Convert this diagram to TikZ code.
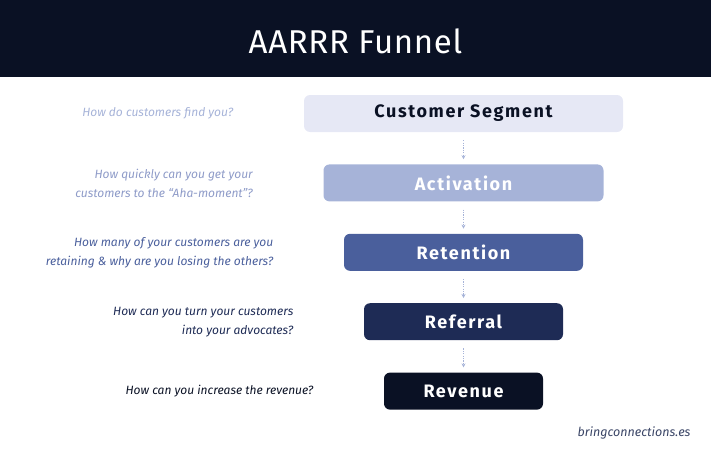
\documentclass[tikz,border=0pt]{standalone}
\usepackage{fontspec}
\setmainfont{Fira Sans}
\usetikzlibrary{positioning,arrows.meta}

\definecolor{navy}{HTML}{0A1124}
\definecolor{lav}{HTML}{E6E8F5}
\definecolor{sky}{HTML}{A6B3D8}
\definecolor{steel}{HTML}{4A5F9C}
\definecolor{ink}{HTML}{1E2B55}
\definecolor{mist}{HTML}{8E9BC8}
\definecolor{web}{HTML}{3A4566}

\tikzset{
  stage/.style={rectangle, rounded corners=6pt, minimum height=37pt, inner sep=0pt,
    font=\fontsize{18}{20}\selectfont\bfseries\addfontfeatures{LetterSpace=9}},
  ask/.style={anchor=east, align=right, font=\fontsize{12}{19}\selectfont\itshape},
  flow/.style={draw=sky, line width=0.6pt, dash pattern=on 1.2pt off 1.2pt,
    -{Stealth[length=4pt,width=4pt]}, shorten <=8pt, shorten >=5pt}
}

\begin{document}
\begin{tikzpicture}[x=1pt, y=1pt, node distance=32pt]
        \useasboundingbox (0,0) rectangle (711,-450);
        \fill[navy] (0,0) rectangle (711,-77);
        \node[text=white, font=\fontsize{33}{36}\selectfont\addfontfeatures{LetterSpace=2}] (title) at (355.5,-41) {AARRR Funnel};

        \node[stage, fill=lav, text=navy, minimum width=319pt] (seg) at (463.5,-113.5) {Customer Segment};
        \node[stage, fill=sky, text=white, minimum width=280pt, below=of seg] (act) {Activation};
        \node[stage, fill=steel, text=white, minimum width=239pt, below=of act] (ret) {Retention};
        \node[stage, fill=ink, text=white, minimum width=199pt, below=of ret] (ref) {Referral};
        \node[stage, fill=navy, text=white, minimum width=159pt, below=of ref] (rev) {Revenue};

        \node[ask, text=sky, left=67pt of seg.west] (q-seg) {How do customers find you?};
        \node[ask, text=mist, left=67pt of act.west] (q-act) {How quickly can you get your\\customers to the ``Aha-moment''?};
        \node[ask, text=steel, left=67pt of ret.west] (q-ret) {How many of your customers are you\\retaining \& why are you losing the others?};
        \node[ask, text=ink, left=67pt of ref.west] (q-ref) {How can you turn your customers\\into your advocates?};
        \node[ask, text=navy, left=67pt of rev.west] (q-rev) {How can you increase the revenue?};

        \draw[flow] (seg) -- (act); %
        \draw[flow] (act) -- (ret); %
        \draw[flow] (ret) -- (ref); %
        \draw[flow] (ref) -- (rev); %

        \node[anchor=east, text=web, font=\fontsize{12.5}{14}\selectfont\itshape] (site) at (694,-433) {bringconnections.es};
\end{tikzpicture}
\end{document}
